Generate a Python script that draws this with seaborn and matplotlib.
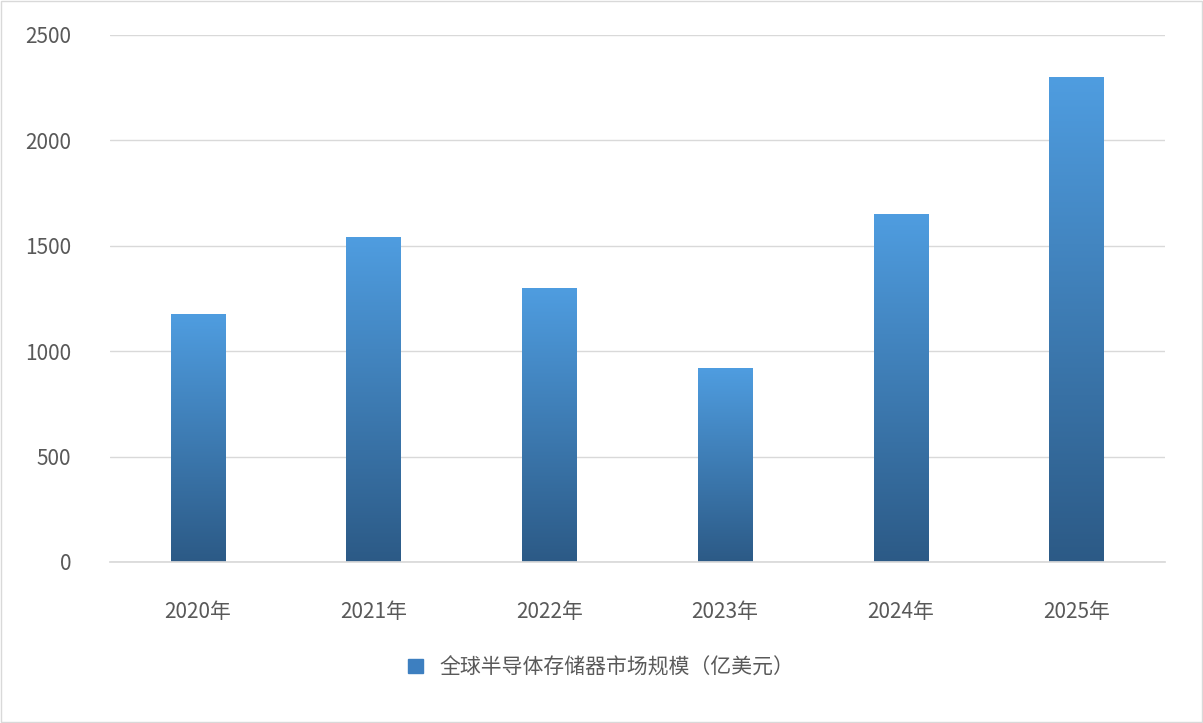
import matplotlib
matplotlib.use("Agg")
import matplotlib.pyplot as plt
import seaborn as sns
import numpy as np
import pandas as pd
from matplotlib.colors import LinearSegmentedColormap
from matplotlib.patches import Rectangle

categories = ["2020年", "2021年", "2022年", "2023年", "2024年", "2025年"]
values = [1175, 1540, 1300, 920, 1650, 2300]
series_name = "全球半导体存储器市场规模（亿美元）"
yticks = [0, 500, 1000, 1500, 2000, 2500]

sns.set_theme(style="white")
plt.rcParams['font.family'] = ['Noto Sans CJK SC', 'DejaVu Sans']

fig = plt.figure(figsize=(12.03, 7.23), dpi=100)
ax = fig.add_axes([0.0914, 0.2227, 0.8766, 0.7289])
df = pd.DataFrame({"cat": categories, "val": values})
sns.barplot(data=df, x="cat", y="val", ax=ax, width=0.31, color="#3d7fc0")

cmap = LinearSegmentedColormap.from_list("g", ["#2c5a86", "#4f9de0"])
grad = np.linspace(0, 1, 256).reshape(-1, 1)
for p in ax.patches:
    x0, y0, w, h = p.get_x(), p.get_y(), p.get_width(), p.get_height()
    im = ax.imshow(grad, extent=[x0, x0 + w, y0, y0 + h], origin="lower",
                   aspect="auto", cmap=cmap, zorder=2)
    im.set_clip_path(p)
    p.set_alpha(0)

ax.set_xlim(-0.5, len(categories) - 0.5)
ax.set_ylim(0, 2500)
ax.set_yticks(yticks)
ax.set_yticklabels([str(t) for t in yticks], fontsize=15, color="#595959")
ax.tick_params(axis="x", labelsize=15, colors="#595959", pad=22)
ax.tick_params(axis="y", pad=22)
ax.yaxis.grid(True, color="#d9d9d9", linewidth=1)
ax.set_axisbelow(True)
ax.set_xlabel("")
ax.set_ylabel("")
for s in ["top", "right", "left"]:
    ax.spines[s].set_visible(False)
ax.spines["bottom"].set_color("#d9d9d9")

handle = Rectangle((0, 0), 1, 1, color="#3d7fc0")
fig.legend([handle], [series_name], loc="center", bbox_to_anchor=(0.5, 0.077),
           frameon=False, fontsize=15, handlelength=0.7, handleheight=0.7,
           labelcolor="#595959")
fig.patches.append(Rectangle((0.001, 0.001), 0.998, 0.998, transform=fig.transFigure,
                             fill=False, edgecolor="#d9d9d9", linewidth=1))
fig.savefig("out.png", dpi=100)
